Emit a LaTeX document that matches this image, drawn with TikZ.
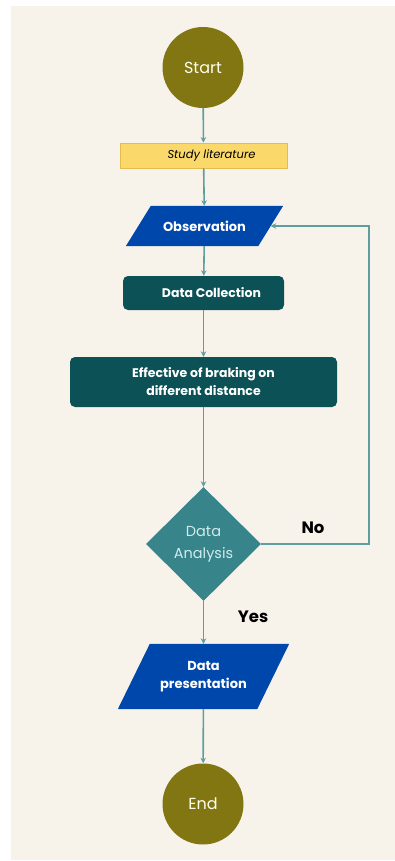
\documentclass[tikz,border=0pt]{standalone}
\usepackage{fontspec}
\setmainfont{Poppins}
\usetikzlibrary{shapes.geometric,arrows.meta,backgrounds}
\definecolor{bg}{HTML}{F7F3EA}
\definecolor{olive}{HTML}{827613}
\definecolor{yel}{HTML}{FAD86A}
\definecolor{yelb}{HTML}{E2BD4E}
\definecolor{blu}{HTML}{0047AB}
\definecolor{dteal}{HTML}{0B5155}
\definecolor{mteal}{HTML}{37848A}
\definecolor{lteal}{HTML}{D2ECEC}
\definecolor{arr}{HTML}{5F9EA0}
\tikzset{
  term/.style={circle,fill=olive,minimum size=81pt,inner sep=0pt,text=white!92!yellow,font=\fontsize{16}{18}\selectfont},
  lit/.style={rectangle,fill=yel,draw=yelb,line width=0.8pt,minimum width=167pt,minimum height=25pt,font=\fontsize{11.5}{13}\selectfont\itshape},
  io/.style={rectangle,text=white,inner sep=0pt,align=center,font=\fontsize{13}{18}\selectfont\bfseries},
  proc/.style={rectangle,rounded corners=5pt,fill=dteal,text=white,align=center,font=\fontsize{12.5}{18}\selectfont\bfseries},
  dec/.style={diamond,fill=mteal,text=lteal,align=center,inner sep=0pt,minimum width=115pt,minimum height=114pt,font=\fontsize{14.5}{22}\selectfont},
  lbl/.style={font=\fontsize{16.5}{18}\selectfont\bfseries,text=black},
  conn/.style={draw=arr,line width=1.6pt,-{Stealth[length=5.5pt,width=5.5pt]}}
}
\begin{document}
\begin{tikzpicture}[x=1pt,y=-1pt]
\useasboundingbox (0,0) rectangle (395,861);
\node[term] (start) at (203,67.5) {Start};
\node[lit] (lit) at (203.5,155.5) {\hspace*{16pt}Study literature};
\node[io,minimum width=132pt,minimum height=40pt] (obs) at (204.5,226) {Observation};
\node[proc,minimum width=161pt,minimum height=34pt] (coll) at (203.5,293) {\hspace*{16pt}Data Collection};
\node[proc,minimum width=267pt,minimum height=50pt] (eff) at (203.5,382) {Effective of braking on\\different distance};
\node[dec] (ana) at (203.5,544) {Data\\Analysis};
\node[io,minimum width=139pt,minimum height=65pt] (pres) at (203.5,676.5) {Data\\presentation};
\node[term] (end) at (203,804) {End};
\begin{scope}[on background layer]
\fill[bg] (11,6) rectangle (395,860);
\fill[blu] ([xshift=12.5pt]obs.north west) -- ([xshift=12.5pt]obs.north east) -- ([xshift=-12.5pt]obs.south east) -- ([xshift=-12.5pt]obs.south west) -- cycle;
\fill[blu] ([xshift=16pt]pres.north west) -- ([xshift=16pt]pres.north east) -- ([xshift=-16pt]pres.south east) -- ([xshift=-16pt]pres.south west) -- cycle;
\end{scope}
\coordinate (c1) at (369,544);
\coordinate (c2) at (369,226);
\node[lbl] (no) at (313,528) {No};
\node[lbl] (yes) at (253,617) {Yes};
\draw[conn] (start) -- (lit);
\draw[conn] (lit) -- (obs);
\draw[conn] (obs) -- (coll);
\draw[conn] (coll) -- (eff);
\draw[conn] (eff) -- (ana);
\draw[conn] (ana) -- (pres);
\draw[conn] (pres) -- (end);
\draw[conn] (ana.east) -- (c1) -- (c2) -- (obs.east);
\end{tikzpicture}
\end{document}
